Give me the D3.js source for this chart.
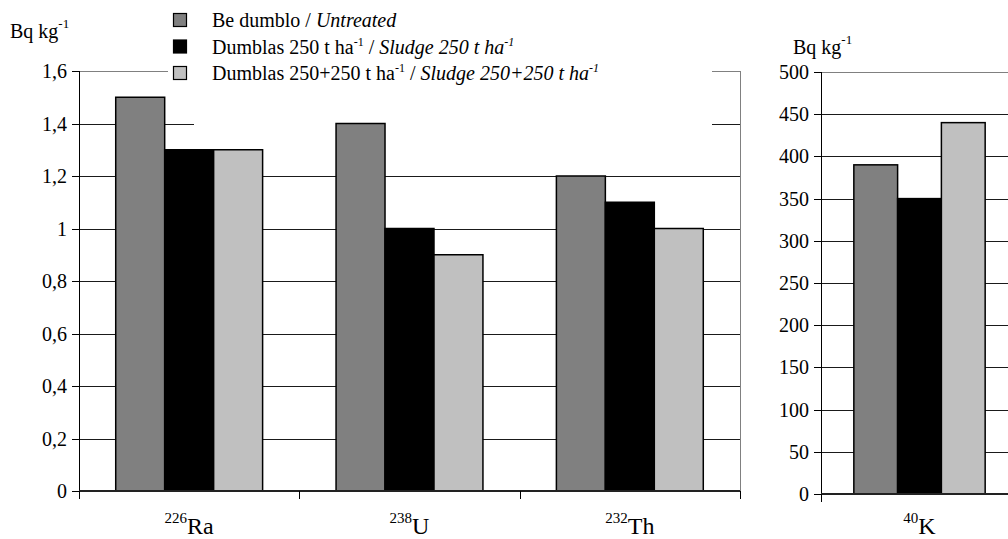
<!DOCTYPE html>
<html>
<head>
<meta charset="utf-8">
<script src="https://cdn.jsdelivr.net/npm/d3@7"></script>
<style>
  html, body { margin: 0; padding: 0; background: #fff; }
  svg { display: block; }
</style>
</head>
<body>
<script>
// categories (mass number + element)
const leftMass = ['226', '238', '232'];
const leftSymbols = ['Ra', 'U', 'Th'];
const rightMass = ['40'];
const rightSymbols = ['K'];

// series
const seriesKeys = ['untreated', 'sludge250', 'sludge500'];
const seriesColors = ['#808080', '#000000', '#c0c0c0'];

// values, Bq kg-1
const untreatedLeft = [1.5, 1.4, 1.2];
const sludge250Left = [1.3, 1.0, 1.1];
const sludge500Left = [1.3, 0.9, 1.0];
const untreatedRight = [390];
const sludge250Right = [350];
const sludge500Right = [440];

// tick values
const leftTicks = [0, 0.2, 0.4, 0.6, 0.8, 1.0, 1.2, 1.4, 1.6];
const rightTicks = [0, 50, 100, 150, 200, 250, 300, 350, 400, 450, 500];

// legend texts: [plain, superscript, plain, italic, italic superscript]
const legendLabels = [
    ['Be dumblo / ', '', '', 'Untreated', ''],
    ['Dumblas 250 t ha', '-1', ' / ', 'Sludge 250 t ha', '-1'],
    ['Dumblas 250+250 t ha', '-1', ' / ', 'Sludge 250+250 t ha', '-1']
];

const fontName = ['Liberation', 'Serif'].join(' ');
const FONT = `'${fontName}', serif`;
const width = 1008, height = 539;
const svg = d3.select('body').append('svg')
    .attr('width', width)
    .attr('height', height);

const fmt = d => String(d).replace('.', ',');
const setFont = (sel, size) => sel.style('font-family', FONT).attr('font-size', size);

function drawPanel(opt) {
    const { left, right, top, bottom, domainMax, ticks, mass, symbols, values, coverRects, rightBorder } = opt;
    const g = svg.append('g');

    const x0 = d3.scaleBand().domain(symbols).range([left, right]);
    const x1 = d3.scaleBand().domain(seriesKeys).range([0, x0.bandwidth()]).paddingOuter(0.75);
    const y = d3.scaleLinear().domain([0, domainMax]).range([bottom, top]);

    // 网格线
    g.append('g').selectAll('line')
        .data(ticks.filter(t => t > 0))
        .enter().append('line')
        .attr('x1', left).attr('x2', right)
        .attr('y1', d => Math.round(y(d)) + 0.5).attr('y2', d => Math.round(y(d)) + 0.5)
        .attr('stroke', d => d === domainMax ? '#808080' : '#1a1a1a')
        .attr('stroke-width', 1);

    if (rightBorder) {
        g.append('line')
            .attr('x1', right + 0.5).attr('x2', right + 0.5)
            .attr('y1', y(domainMax)).attr('y2', y(0))
            .attr('stroke', '#808080');
    }

    // 图例背景遮挡网格线
    (coverRects || []).forEach(r => {
        g.append('rect').attr('x', r[0]).attr('y', r[1]).attr('width', r[2]).attr('height', r[3]).attr('fill', '#fff');
    });

    // 柱子
    const rows = symbols.map((s, i) => ({ s, vals: seriesKeys.map((k, j) => ({ k, v: values[j][i], c: seriesColors[j] })) }));
    g.append('g').selectAll('g')
        .data(rows)
        .enter().append('g')
        .attr('transform', d => `translate(${x0(d.s)},0)`)
        .selectAll('rect')
        .data(d => d.vals)
        .enter().append('rect')
        .attr('x', d => x1(d.k))
        .attr('y', d => y(d.v))
        .attr('width', x1.bandwidth())
        .attr('height', d => y(0) - y(d.v))
        .attr('fill', d => d.c)
        .attr('stroke', '#000')
        .attr('stroke-width', 1.5);

    // y 轴 (tick labels drawn as plain text)
    g.append('g').selectAll('line')
        .data(ticks)
        .enter().append('line')
        .attr('x1', left - 7).attr('x2', left)
        .attr('y1', d => Math.round(y(d)) + 0.5).attr('y2', d => Math.round(y(d)) + 0.5)
        .attr('stroke', '#000');
    g.append('line')
        .attr('x1', left + 0.5).attr('x2', left + 0.5)
        .attr('y1', y(domainMax)).attr('y2', y(0))
        .attr('stroke', '#000');
    g.append('g').selectAll('text')
        .data(ticks)
        .enter().append('text')
        .attr('x', left - 12)
        .attr('y', d => y(d) + 7)
        .attr('text-anchor', 'end')
        .attr('fill', '#000')
        .call(setFont, 20)
        .text(fmt);

    // x 轴
    g.append('line')
        .attr('x1', left).attr('x2', right)
        .attr('y1', y(0)).attr('y2', y(0))
        .attr('stroke', '#222').attr('stroke-width', 2);
    const bounds = symbols.map(s => x0(s)).concat([x0(symbols[symbols.length - 1]) + x0.bandwidth()]);
    g.append('g').selectAll('line')
        .data(bounds)
        .enter().append('line')
        .attr('x1', d => Math.round(d) + 0.5).attr('x2', d => Math.round(d) + 0.5)
        .attr('y1', y(0)).attr('y2', y(0) + 8)
        .attr('stroke', '#000');

    const labels = g.append('g').selectAll('text')
        .data(symbols)
        .enter().append('text')
        .attr('x', d => x0(d) + x0.bandwidth() / 2)
        .attr('y', 534)
        .attr('text-anchor', 'middle')
        .attr('fill', '#000')
        .call(setFont, 24);
    labels.append('tspan')
        .attr('font-size', 15)
        .attr('dy', -11)
        .text((d, i) => mass[i]);
    labels.append('tspan')
        .attr('dy', 11)
        .text(d => d);

    return { x0, y };
}

drawPanel({
    left: 79, right: 740, top: 71, bottom: 491,
    domainMax: 1.6, ticks: leftTicks,
    mass: leftMass, symbols: leftSymbols,
    values: [untreatedLeft, sludge250Left, sludge500Left],
    coverRects: [[168, 0, 544, 100], [194, 100, 518, 30]],
    rightBorder: true
});

drawPanel({
    left: 821, right: 1018, top: 72, bottom: 494,
    domainMax: 500, ticks: rightTicks,
    mass: rightMass, symbols: rightSymbols,
    values: [untreatedRight, sludge250Right, sludge500Right],
    rightBorder: false
});

// 单位标签
function unitLabel(x, yPos) {
    const t = svg.append('text').attr('x', x).attr('y', yPos)
        .attr('fill', '#000').call(setFont, 20);
    t.append('tspan').text('Bq kg');
    t.append('tspan').attr('font-size', 13).attr('dy', -10).text('-1');
}
unitLabel(10, 38);
unitLabel(793, 54);

// 图例
const legend = svg.append('g');
legendLabels.forEach((parts, i) => {
    const cy = 20 + i * 26.5;
    legend.append('rect')
        .attr('x', 173.5).attr('y', cy - 6.5)
        .attr('width', 13).attr('height', 13)
        .attr('fill', seriesColors[i])
        .attr('stroke', '#000').attr('stroke-width', 1.2);
    const t = legend.append('text')
        .attr('x', 212).attr('y', cy + 7)
        .attr('fill', '#000').call(setFont, 20);
    t.append('tspan').text(parts[0]);
    if (parts[1]) t.append('tspan').attr('font-size', 12).attr('dy', -8).text(parts[1]);
    if (parts[2]) t.append('tspan').attr('dy', parts[1] ? 8 : 0).text(parts[2]);
    t.append('tspan').style('font-style', 'italic').text(parts[3]);
    if (parts[4]) t.append('tspan').style('font-style', 'italic').attr('font-size', 12).attr('dy', -8).text(parts[4]);
});
</script>
</body>
</html>
